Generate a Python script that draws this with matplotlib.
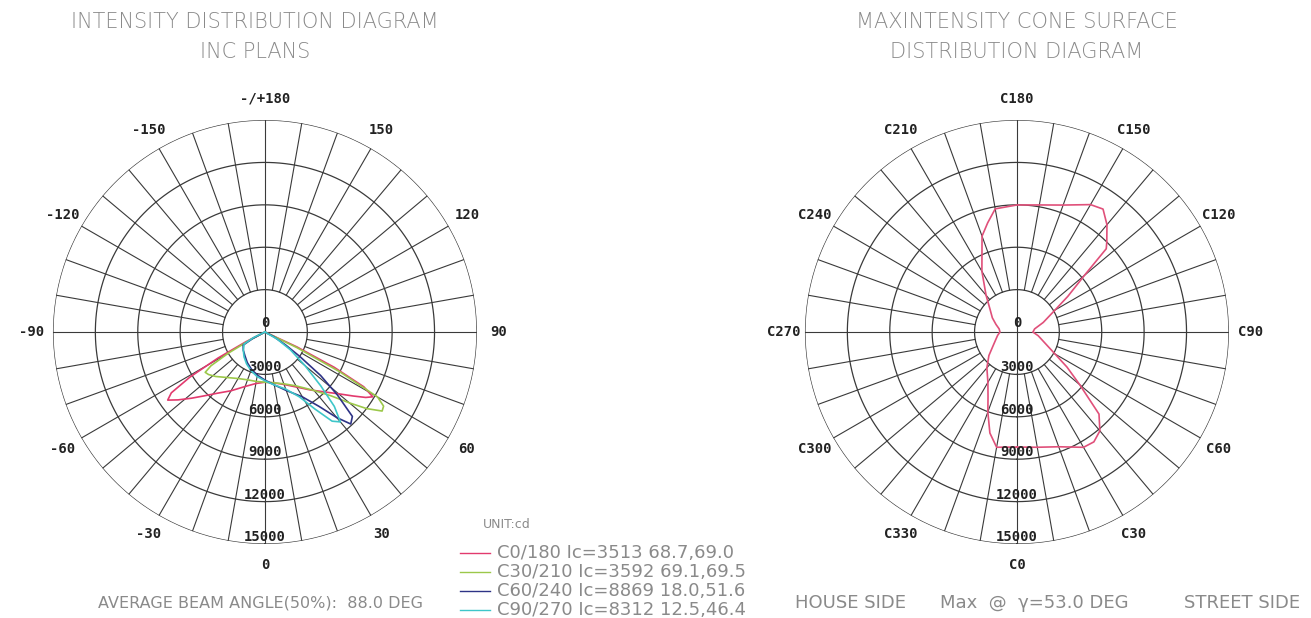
import numpy as np
import matplotlib.pyplot as plt
from matplotlib.lines import Line2D

# intensity curves in C planes (gamma in degrees, negative = left half of the plane pair)
gamma_c0 = [-90, -66, -63, -61, -59, -57, -55, -52, -48, -44, -38, -30, -20, -10, 0, 10, 20, 30, 38, 45, 50, 54, 57, 59, 61, 63, 65, 68, 90]
cd_c0 = [0, 0, 1500, 3800, 6200, 7900, 8400, 7800, 7000, 6300, 5500, 4800, 4100, 3700, 3550, 3650, 3950, 4500, 5200, 6000, 6800, 7700, 8500, 8900, 8000, 5500, 2500, 0, 0]

gamma_c30 = [-90, -64, -62, -60, -58, -56, -53, -48, -40, -30, -20, -10, 0, 10, 20, 30, 40, 46, 50, 53, 56, 58, 60, 62, 64, 67, 90]
cd_c30 = [0, 0, 1200, 3000, 4500, 5100, 5000, 4700, 4200, 3800, 3600, 3550, 3550, 3650, 3900, 4400, 5400, 6500, 7800, 9000, 10000, 9900, 9200, 6000, 2500, 0, 0]

gamma_c60 = [-90, -66, -62, -59, -50, -40, -30, -20, -10, 0, 10, 20, 30, 36, 40, 43, 46, 49, 52, 55, 58, 62, 66, 90]
cd_c60 = [0, 0, 1000, 1800, 2000, 2200, 2500, 2800, 3100, 3400, 3800, 4400, 5300, 6500, 7900, 8900, 8600, 6800, 5000, 3000, 1700, 700, 0, 0]

gamma_c90 = [-90, -68, -64, -60, -50, -40, -30, -20, -10, 0, 10, 20, 28, 33, 37, 40, 43, 46, 50, 55, 60, 65, 90]
cd_c90 = [0, 0, 900, 1700, 2000, 2300, 2600, 2900, 3200, 3450, 3800, 4300, 5200, 6500, 7900, 8300, 7200, 5500, 3700, 2200, 1000, 0, 0]

plane_labels = ['C0/180 Ic=3513 68.7,69.0', 'C30/210 Ic=3592 69.1,69.5',
                'C60/240 Ic=8869 18.0,51.6', 'C90/270 Ic=8312 12.5,46.4']
plane_colors = ['#e23a6e', '#9cc84a', '#2e3386', '#3ec6c9']

# cone surface at gamma = 53 deg (C angle in degrees)
c_angle = [0, 10, 20, 30, 35, 40, 45, 50, 55, 60, 70, 80, 90, 100, 110, 120, 125, 130, 133, 135, 140, 145, 150,
           160, 170, 180, 190, 195, 200, 210, 220, 230, 240, 250, 260, 270, 280, 290, 300, 310, 320, 330, 336,
           340, 345, 350, 360]
cone_cd = [8140, 8280, 8640, 9420, 9490, 9130, 8210, 5800, 4320, 3110, 2020, 1530, 1130, 1270, 1980, 3110, 4390,
           6230, 8640, 8990, 9910, 10620, 10410, 9560, 9130, 8990, 8850, 8000, 7220, 4960, 3400, 2480, 2010,
           1580, 1280, 1200, 1390, 1600, 1950, 2590, 3310, 4110, 5030, 6020, 7400, 8280, 8140]

rings = [3000, 6000, 9000, 12000, 15000]
left_ticks = [0, 30, 60, 90, 120, 150, 180, -150, -120, -90, -60, -30]
left_tick_labels = ['0', '30', '60', '90', '120', '150', '-/+180', '-150', '-120', '-90', '-60', '-30']
right_ticks = [0, 30, 60, 90, 120, 150, 180, 210, 240, 270, 300, 330]
right_tick_labels = ['C0', 'C30', 'C60', 'C90', 'C120', 'C150', 'C180', 'C210', 'C240', 'C270', 'C300', 'C330']

grid_col = '#3a3a3a'
text_col = '#8a8a8a'
mono = dict(family='DejaVu Sans Mono', fontweight='bold', fontsize=10, color='#222222')


def setup_polar(ax, ticks, tick_labels):
    ax.set_theta_zero_location('S')
    ax.set_theta_direction(1)
    ax.set_ylim(0, 15000)
    ax.grid(False)
    ax.set_xticks([])
    ax.set_yticks([])
    ax.spines['polar'].set_visible(False)
    full = np.linspace(0, 2 * np.pi, 400)
    for r in rings:                                  # circles every 3000 cd
        ax.plot(full, np.full_like(full, r), color=grid_col, lw=0.9)
    for a in range(0, 360, 10):                      # spokes every 10 deg
        t = np.radians(a)
        r0 = 0 if a % 90 == 0 else rings[0]
        ax.plot([t, t], [r0, 15000], color=grid_col, lw=0.8)
    for a, lab in zip(ticks, tick_labels):
        ax.text(np.radians(a), 16500, lab, ha='center', va='center', clip_on=False, **mono)
    ax.text(np.pi, 650, '0', ha='center', va='center', **mono)
    for r in rings:
        ax.text(0, r - 500, str(r), ha='center', va='center', **mono)


fig = plt.figure(figsize=(13.11, 6.18), dpi=100)

# left diagram
ax1 = fig.add_axes([0.0404, 0.1197, 0.3234, 0.6861], projection='polar')
setup_polar(ax1, left_ticks, left_tick_labels)
for g, cd, col in zip([gamma_c0, gamma_c30, gamma_c60, gamma_c90], [cd_c0, cd_c30, cd_c60, cd_c90], plane_colors):
    ax1.plot(np.radians(g), cd, color=col, lw=1.2)

# right diagram
ax2 = fig.add_axes([0.6140, 0.1197, 0.3234, 0.6861], projection='polar')
setup_polar(ax2, right_ticks, right_tick_labels)
ax2.plot(np.radians(c_angle), cone_cd, color='#e0507a', lw=1.2)

# titles
fig.text(255 / 1311, 1 - 22 / 618, 'INTENSITY DISTRIBUTION DIAGRAM', ha='center', va='center',
         fontsize=15, color=text_col, fontweight='light')
fig.text(255 / 1311, 1 - 52 / 618, 'INC PLANS', ha='center', va='center', fontsize=15, color=text_col,
         fontweight='light')
fig.text(1017 / 1311, 1 - 22 / 618, 'MAXINTENSITY CONE SURFACE', ha='center', va='center', fontsize=15,
         color=text_col, fontweight='light')
fig.text(1017 / 1311, 1 - 52 / 618, 'DISTRIBUTION DIAGRAM', ha='center', va='center', fontsize=15,
         color=text_col, fontweight='light')

# legend
fig.text(483 / 1311, 1 - 525 / 618, 'UNIT:cd', ha='left', va='center', fontsize=9, color=text_col)
for i, (lab, col) in enumerate(zip(plane_labels, plane_colors)):
    y = 1 - (553 + 19 * i) / 618
    fig.add_artist(Line2D([460 / 1311, 490 / 1311], [y, y], color=col, lw=1.0))
    fig.text(497 / 1311, y, lab, ha='left', va='center', fontsize=13, color=text_col)

# bottom notes
fig.text(260 / 1311, 1 - 603 / 618, 'AVERAGE BEAM ANGLE(50%):  88.0 DEG', ha='center', va='center',
         fontsize=11.5, color=text_col)
fig.text(795 / 1311, 1 - 603 / 618, 'HOUSE SIDE', ha='left', va='center', fontsize=13, color=text_col)
fig.text(1034 / 1311, 1 - 603 / 618, 'Max  @  \u03b3=53.0 DEG', ha='center', va='center', fontsize=13,
         color=text_col)
fig.text(1300 / 1311, 1 - 603 / 618, 'STREET SIDE', ha='right', va='center', fontsize=13, color=text_col)

fig.savefig('out.png', dpi=100)
